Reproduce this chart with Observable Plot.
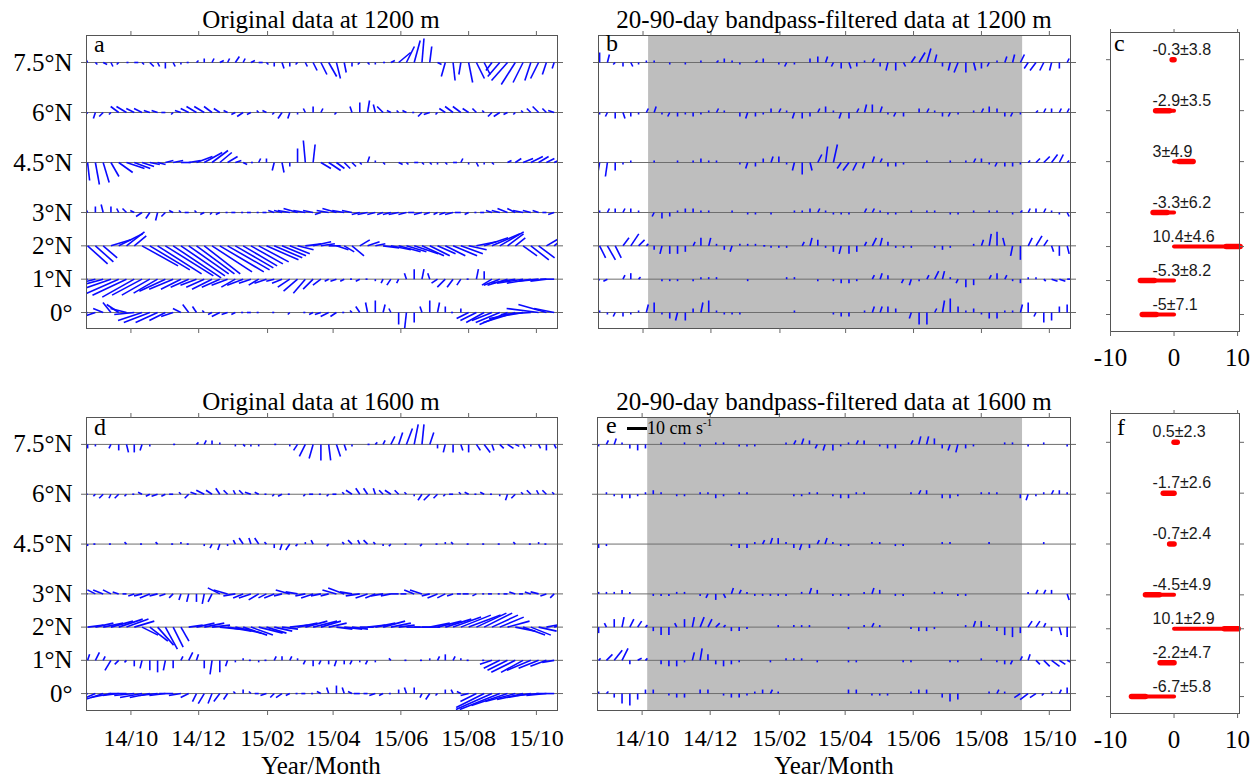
<!DOCTYPE html>
<html><head><meta charset="utf-8">
<script src="https://cdn.jsdelivr.net/npm/d3@7"></script>
<script src="https://cdn.jsdelivr.net/npm/@observablehq/plot@0.6"></script>
<style>
html,body{margin:0;padding:0;background:#fff;}
#fig{position:relative;width:1258px;height:780px;overflow:hidden;font-family:"Liberation Serif",serif;color:#000;}
.t{position:absolute;white-space:nowrap;line-height:1;}
.title{font-size:25px;transform:translateX(-50%);}
.letter{font-size:24px;}
</style></head><body><div id="fig"></div>
<script>
// ---------- axes / categories ----------
const lats = [7.5, 6, 4.5, 3, 2, 1, 0];
const latLabels = ["7.5°N", "6°N", "4.5°N", "3°N", "2°N", "1°N", "0°"];
const monthTicks = ["2014-10-01", "2014-12-01", "2015-02-01", "2015-04-01", "2015-06-01", "2015-08-01", "2015-10-01"];
const monthLabels = ["14/10", "14/12", "15/02", "15/04", "15/06", "15/08", "15/10"];
const timeDomain = ["2014-08-22", "2015-10-20"];
const firstStick = "2014-08-23";
const stickStepDays = 7;
const shadeStart = "2014-10-06";
const shadeEnd = "2015-09-07";
const barTicks = [-10, 0, 10];
const barDomain = [-10, 10.3];

// ---------- mean zonal velocity (cm/s) ± std ----------
const mean1200 = [-0.3, -2.9, 3, -3.3, 10.4, -5.3, -5];
const std1200 = [3.8, 3.5, 4.9, 6.2, 4.6, 8.2, 7.1];
const mean1600 = [0.5, -1.7, -0.7, -4.5, 10.1, -2.2, -6.7];
const std1600 = [2.3, 2.6, 2.4, 4.9, 2.9, 4.7, 5.8];

// ---------- weekly velocity sticks, flat [u,v, u,v, ...] in cm/s ----------
// (a) original, 1200 m
const orig1200_75 = [-1,2, 1,-1, 2,-1, 1,-2, -1,-1, 1,0, 2,0, 1,-1, 2,-2, 1,-2, 0,-3, 1,-2, 0,-1, -1,0, 1,1, 0,2, 1,2, 2,1, 1,2, 2,3, 1,2, 2,1, 2,0, 1,-1, 0,-2, 1,-3, 0,-2, -1,-1, 1,-2, 2,-4, 3,-6, 4,-7, 2,-8, 1,-5, 0,-2, -1,-1, 1,-1, 0,-1, 1,0, 2,1, 6,5, 4,8, 3,11, 1,12, 1,8, 2,-1, -2,-7, 1,-9, -1,-6, 2,-10, 4,-8, 3,-6, -3,-4, -6,-7, -8,-9, -7,-11, -5,-10, -3,-9, -4,-8, -2,-6, -1,-3];
const orig1200_6 = [-2,-2, -1,-3, -2,-2, -1,-1, -4,3, -5,3, -4,2, -4,2, -3,1, -3,1, -2,0, -1,-1, -3,1, -4,2, -5,3, -5,3, -4,3, -3,2, -2,1, -2,-1, -3,-2, -2,-1, -1,1, -2,1, -1,-1, -2,-3, -1,-3, 0,-1, -1,2, 0,3, 1,2, 0,0, -1,-1, 0,0, -1,3, 0,5, 1,6, -1,4, -3,3, -2,1, -1,1, -2,1, -1,0, -2,-2, -3,-1, -1,-1, -3,2, -4,3, -4,3, -3,2, -2,2, -1,1, -2,-2, -3,-2, -2,-1, -1,-1, -1,1, -2,2, -3,3, -2,2, -3,1];
const orig1200_45 = [1,-9, 2,-11, 3,-10, 4,-7, 7,-5, 9,-3, 8,-3, 6,-2, 5,-1, 4,-1, 4,1, 5,1, 5,0, 6,1, 8,3, 9,5, 8,6, 6,5, 5,3, 3,1, 2,-1, 1,0, 1,2, 0,2, -1,-4, 1,-5, 0,-2, 0,7, -1,11, 1,9, 5,-3, 6,-4, 4,-3, 3,-3, 2,-2, 1,-1, 1,3, 0,1, 1,-1, 0,0, 2,-1, 1,-1, 2,0, 1,-1, 1,-1, 0,-1, 1,-1, 2,0, 1,2, 0,-1, 1,-2, 0,-1, 1,-1, 0,0, 2,1, 3,2, 5,2, 6,3, 5,3, 4,2, 2,1];
const orig1200_3 = [-1,2, 0,3, -1,4, 0,3, -1,2, -2,2, -2,1, -3,-2, -2,-3, -1,-4, -2,-2, -2,1, -1,1, -2,0, -1,1, -2,-1, -1,-1, -2,-1, -1,0, -2,0, -1,0, -2,0, -1,0, -2,0, -3,1, -4,1, -6,1, -7,2, -6,1, -5,1, -3,-1, -6,1, -7,2, -6,1, -5,1, -4,-1, -5,-1, -4,-1, -3,-1, -4,-1, -5,-1, -4,-1, -3,0, -4,-1, -3,-1, -2,-1, -3,-1, -4,-1, -3,0, -2,-1, -1,0, -2,0, -3,1, -4,1, -5,2, -4,2, -5,1, -4,1, -3,1, -2,0, -3,-1];
const orig1200_2 = [10,-9, 9,-8, 7,-6, 10,3, 12,6, 9,7, 6,5, 18,-10, 20,-12, 22,-14, 24,-15, 24,-16, 22,-15, 20,-14, 19,-14, 18,-14, 20,-13, 22,-13, 21,-12, 19,-11, 17,-10, 16,-9, 15,-8, 16,-7, 14,-6, 12,-5, 10,-4, 8,-2, 8,1, 9,2, 7,1, 6,0, 6,-2, 5,-3, 6,-5, 5,3, 6,2, 5,1, 8,-1, 10,-2, 11,-3, 10,-3, 12,-4, 11,-5, 10,-5, 9,-4, 10,-5, 12,-5, 11,-4, 9,-2, 10,2, 12,4, 14,6, 12,7, 8,6, 5,4, 7,-5, 9,-7, 8,-6, 7,4, 6,5];
const orig1200_1 = [-18,-3, -20,-5, -22,-6, -20,-7, -18,-8, -17,-8, -16,-9, -15,-8, -14,-8, -12,-7, -13,-6, -12,-5, -10,-5, -9,-4, -8,-3, -9,-4, -10,-5, -9,-4, -8,-3, -7,-4, -8,-3, -6,-2, -5,-3, -6,-2, -4,-1, -5,-2, -6,-4, -7,-6, -6,-7, -5,-5, -4,-3, -2,-1, -3,-1, -2,-1, -1,0, -2,-1, -1,0, 0,-1, -1,-2, -2,-3, -1,-2, -1,3, 0,5, 1,5, -1,3, -3,-2, -4,-4, -3,-4, -2,-3, -1,0, 1,5, 0,4, -5,-3, -8,-3, -10,-3, -12,-2, -13,-2, -12,-2, -10,-1, -8,-1, -7,0];
const orig1200_0 = [-8,-3, -6,-2, -5,2, -4,5, -6,4, -8,2, -10,-1, -12,-4, -13,-5, -11,-5, -8,-4, -6,-2, -4,2, -3,4, -2,3, -1,1, -2,-1, -4,-2, -3,-1, -2,-1, -1,0, -2,0, -1,0, 0,0, -1,0, 0,0, -1,-1, 0,0, -1,0, -2,-1, -3,-1, -4,-2, -3,-2, -1,0, -1,1, -2,3, -1,5, 0,6, 1,4, -1,2, 0,-6, -1,-9, 0,-5, -1,3, 0,6, 1,5, 0,3, -1,0, 0,2, -6,-3, -8,-4, -9,-5, -10,-4, -12,-5, -14,-6, -16,-5, -17,-3, -15,-1, -16,2, -14,4, -10,2];

// (b) 20-90-day filtered, 1200 m
const filt1200_75 = [0,5, 1,4, -1,-1, 0,-2, 1,-2, 0,-1, 0,1, 0,1, 0,0, 0,-1, 0,0, 0,-1, 0,0, 0,1, 0,0, 1,1, 0,2, 0,1, 0,-1, 0,0, 1,1, 0,2, 0,0, 0,-1, -1,-2, 0,-1, 0,0, 0,2, 0,3, 1,3, -1,-2, 0,-3, 1,-3, 0,-2, 0,1, 1,2, 0,-2, -1,-4, 0,-4, 1,-2, 2,3, 3,5, 2,7, 1,4, 0,-2, -1,-4, -2,-5, 0,-5, 1,-4, 0,-3, -1,-2, 0,1, 1,3, 1,4, 2,4, -2,-3, -3,-4, -2,-4, -1,-4, 0,-3, 1,2];
const filt1200_6 = [0,-1, -1,-2, 0,-3, 1,-3, 0,-2, 0,-1, 1,2, 1,3, 0,-1, -1,-2, 0,-2, 0,-1, 0,-2, 0,-1, 0,1, 1,2, 0,1, 0,0, 0,-2, -1,-3, 0,-2, 0,-1, 0,2, 1,2, 0,1, -1,-3, 0,-3, 0,-2, 1,2, 0,3, 0,1, -1,-3, 0,-3, 1,2, 1,4, 0,4, 1,3, 0,-1, -1,-2, 0,-2, 0,0, 0,2, 1,2, 0,1, 0,-2, -1,-2, 0,-1, 0,0, 0,1, 1,2, 0,3, 0,2, 0,-2, -1,-2, 0,-1, 0,0, 1,1, 1,2, 0,2, 1,2, 1,2];
const filt1200_45 = [-1,-6, -1,-7, 0,-4, 0,-1, 0,1, 0,0, 0,0, 0,1, 0,0, 0,0, 0,1, 0,0, 0,1, 0,2, 0,1, 0,1, 0,0, 0,0, 0,-1, -1,-3, 0,-2, 0,2, 1,3, 0,3, 0,-1, -1,-4, 0,-6, 1,-4, 2,4, 1,8, 2,9, -2,-3, -3,-4, -2,-4, -1,-3, 1,3, 1,2, 0,-2, 0,-2, 0,-1, 0,0, 0,0, 0,1, 0,0, 0,0, 0,1, 0,0, 0,1, 1,2, 0,2, 0,-1, -1,-2, 0,-2, 0,-2, 0,-1, 1,1, 2,2, 3,3, 3,4, 2,4, 1,1];
const filt1200_3 = [0,1, 1,2, 0,2, 1,2, 0,2, 0,1, 0,0, -1,-2, 0,-3, 0,-2, 0,1, 0,2, 0,2, 0,1, 0,1, 0,0, 0,0, 0,1, 0,0, 0,-1, 0,-1, 0,0, 0,-1, 0,0, 0,0, 0,1, 0,1, 0,2, 1,2, 0,1, 0,-1, 0,-1, 0,-1, 0,0, 1,2, 1,2, 0,1, 0,-1, 0,-1, 0,0, 0,1, 0,0, 0,1, 0,1, 0,0, 0,-1, 0,-1, 0,0, 0,1, 0,0, 0,1, 0,1, 0,0, 0,-1, 1,1, 1,2, 0,2, 1,2, 0,1, 0,-1, 1,-2];
const filt1200_2 = [3,-6, 4,-7, 3,-6, 3,4, 4,6, 3,3, 1,1, 0,-2, -1,-4, 0,-4, 0,-4, 0,-3, 1,2, 0,4, 1,4, 0,1, 0,-2, -1,-3, 0,1, 0,1, 0,1, 1,0, 0,-1, 0,-1, 0,-1, 0,0, 1,2, 1,4, 0,3, 0,-1, 0,-3, -1,-4, 0,-4, 0,-3, 1,2, 2,4, 1,4, 0,2, 0,-1, 0,-1, 0,-1, 0,0, 0,0, 0,-1, 0,-2, 0,-1, 0,0, 0,0, 0,1, 1,3, 1,6, 0,7, -1,4, -1,-5, 0,-7, 2,4, 3,5, 2,3, 1,-3, 0,-5, 1,-4];
const filt1200_1 = [-1,-1, -2,-1, 0,0, 1,2, 0,3, 1,1, 0,0, 0,0, 0,-1, 0,-1, 0,-1, 0,0, 0,-1, 0,1, 0,1, 0,1, 0,0, 0,0, 0,0, 0,-1, 0,0, 0,0, 0,0, 0,0, 0,1, 0,1, 0,0, 0,0, 0,-1, 0,0, 0,-1, 0,-2, 0,-2, 0,-1, 0,0, 1,2, 1,3, 0,2, 0,0, -1,-2, -1,-3, 0,-1, 1,2, 2,4, 1,4, 0,1, -1,-2, 0,-4, 0,-3, 0,0, 1,2, 0,3, 1,2, 0,-1, 0,-2, 0,1, 0,1, 1,-1, 3,-1, 3,-1, 2,0];
const filt1200_0 = [0,1, 0,-1, -1,-2, 0,-2, 0,-1, 0,1, 1,4, 0,5, 0,-1, 0,-3, -1,-4, 0,-4, 0,2, 1,5, 0,6, 0,1, 0,-1, 0,-1, 0,-1, 0,0, 0,0, 0,0, 0,0, 0,0, 0,0, 0,1, 0,0, 0,0, 0,0, 0,0, 0,-1, 0,-2, 0,-2, 0,0, 0,1, 1,3, 1,3, 0,3, 0,2, 0,0, -1,-3, 0,-6, 0,-6, 1,2, 1,6, 0,7, 0,3, 0,1, 0,2, 0,-1, 0,-3, 0,-3, 0,1, 0,1, 1,4, 0,5, -1,-2, 0,-5, 0,-4, 0,3, 0,4];

// (d) original, 1600 m
const orig1600_75 = [0,-2, 0,-1, 0,0, -1,-2, 0,-3, 1,-4, 0,-4, -1,-3, 0,-1, 0,0, 0,0, 1,0, 0,0, 0,0, 1,1, 1,2, 0,2, 0,1, 0,0, 0,-1, 1,-1, 0,-1, 0,-1, 0,0, 1,0, 0,0, 0,-1, -2,-3, -3,-6, -2,-7, 0,-8, 1,-8, 2,-6, 1,-3, 0,-1, 0,0, 1,0, 1,1, 1,2, 2,4, 2,6, 3,8, 2,10, 1,10, 2,6, 0,-2, -1,-4, 0,-4, 1,-3, 0,-4, 2,-3, 3,-4, 1,-3, 2,-2, 3,-2, 2,-1, 1,-2, 0,-1, 1,-2, 0,-3, 1,-2];
const orig1600_6 = [-1,0, -1,-1, -2,-2, -1,-2, -2,-2, -1,-1, -1,0, -2,1, -2,-1, -3,-1, -2,-1, -2,0, -1,1, -2,-2, -3,1, -4,2, -3,2, -2,3, -2,2, -1,2, -2,2, -3,1, -2,1, -1,0, -1,-1, -2,-1, -1,0, 0,0, -1,-1, -2,0, -1,0, -1,-1, -2,0, -1,1, -3,2, -2,3, -2,3, -1,3, -2,2, -3,2, -2,2, -1,1, 0,-1, -2,-3, -3,-3, -2,-2, -1,-1, -2,0, -1,1, -2,1, -1,0, -2,1, -1,0, 0,-1, -1,-3, -2,-2, -1,1, -2,2, -1,2, -2,2, -1,1];
const orig1600_45 = [0,-1, -1,0, 0,0, -1,0, 0,0, -1,1, 0,0, -1,0, 0,0, -1,1, 0,0, -1,0, 0,1, -1,0, 0,0, 0,-1, -1,-2, -1,-3, 0,-1, -1,2, -2,3, -1,3, -2,3, -1,1, 0,-2, -1,-3, -2,-3, -1,-1, 0,1, -1,2, 0,0, -1,-1, 0,0, -1,1, -2,2, -1,2, -2,2, -1,1, 0,-1, -1,-1, 0,0, -1,0, 0,0, -1,-1, 0,0, -1,0, 0,1, -1,1, 0,0, -1,0, 0,0, -1,0, 0,0, -1,0, 0,0, -1,1, 0,0, -1,0, 0,1, -1,0, 0,0];
const orig1600_3 = [-3,1, -4,2, -5,2, -4,2, -3,1, -2,0, -3,-1, -4,-1, -5,-2, -4,-1, -3,-1, -2,-2, -1,-3, -1,-4, 0,-4, -1,-5, -2,-4, -6,3, -7,2, -6,-1, -5,-2, -6,-2, -5,-3, -4,-2, -5,-2, -4,-1, -7,2, -6,1, -5,-1, -6,-2, -5,-1, -4,-1, -7,2, -8,3, -6,1, -7,-1, -6,-2, -5,-2, -6,-1, -5,-1, -4,0, -3,0, -5,2, -6,2, -4,-1, -5,-2, -4,-2, -3,-1, -2,0, -3,0, -2,-1, -1,0, -2,0, -1,0, -2,0, -3,1, -2,0, -3,1, -4,1, -3,-1, -2,-2];
const orig1600_2 = [8,1, 9,2, 10,2, 11,3, 12,4, 11,4, 10,3, 8,-4, 9,-7, 8,-9, 6,-11, 5,-10, 4,-7, 7,1, 9,2, 10,2, 9,1, 10,-1, 12,-2, 13,-3, 12,-4, 11,-4, 12,-3, 10,-3, 9,-2, 8,-1, 9,1, 10,2, 11,3, 12,3, 10,3, 9,2, 8,-1, 9,-1, 8,-1, 7,0, 9,1, 10,2, 11,3, 10,2, 8,1, 7,0, 8,0, 9,0, 10,2, 12,3, 13,4, 14,5, 15,6, 16,6, 15,7, 14,7, 13,6, 12,5, 11,3, 10,-2, 11,-4, 10,-4, 9,-2, 10,2, 9,3];
const orig1600_1 = [1,3, 2,4, 1,2, -3,-5, -2,-2, -1,-1, 0,-3, -1,-4, 0,-5, 0,-6, -1,-5, 0,-4, 1,2, 2,4, 1,3, 0,-4, -1,-7, 0,-6, -1,-3, 0,-1, 0,1, -1,0, 0,-1, -1,0, 1,2, 0,2, 1,2, 0,1, -1,-2, 0,-3, -1,-2, 0,-2, -1,-3, 0,-2, -1,-2, 0,-1, -1,-2, 0,-1, 0,0, -1,1, 0,0, -1,0, 0,0, -1,0, 0,1, 1,2, 0,3, 1,2, 0,1, -1,0, 0,0, -1,0, -6,-2, -8,-4, -10,-5, -12,-6, -11,-6, -12,-5, -10,-4, -8,-3, -6,-1];
const orig1600_0 = [-16,-8, -14,-6, -12,-4, -10,-2, -8,-1, -9,0, -10,-1, -11,-2, -10,-2, -9,-1, -8,-1, -7,0, -6,-1, -4,-2, -2,-4, -3,-5, -2,-5, -3,-4, -2,-3, -1,1, 0,2, -1,1, -2,0, -3,-1, -2,-2, -3,-2, -2,-1, -1,0, -2,0, -1,0, -2,1, -1,3, 0,4, -1,3, -2,1, -3,0, -2,0, -3,-1, -2,-1, -1,0, 0,2, -1,3, 0,3, -1,-2, -2,-3, -1,-1, 0,2, -1,2, -2,1, -4,-1, -8,-4, -14,-7, -18,-8, -20,-8, -18,-6, -15,-4, -13,-3, -12,-2, -11,-1, -10,-1, -9,0];

// (e) 20-90-day filtered, 1600 m
const filt1600_75 = [0,-1, 1,2, 1,3, 0,1, 0,-2, 0,-3, 0,-2, 0,0, 0,1, 0,0, 0,0, 0,1, 0,0, 0,-1, 0,0, 0,1, 0,1, 0,0, 0,-1, 0,-1, 0,-1, 0,0, 0,0, 0,0, 0,1, 1,2, 1,3, 0,2, -1,-2, -1,-3, 0,-3, 0,-1, 0,1, 1,2, 0,2, 0,0, 0,-1, 0,-2, 0,-2, 0,0, 1,2, 1,4, 1,4, 0,3, 0,-2, -1,-3, -1,-4, 0,-2, 0,-1, 0,0, 0,0, 0,0, 0,1, 0,1, 0,0, 0,-1, 0,0, 0,1, 0,0, 0,0, 0,-1];
const filt1600_6 = [0,0, 0,1, 0,-1, 0,-2, 0,-2, 0,-1, 0,1, 0,2, 0,1, 0,0, 0,-1, 0,-1, 0,0, 0,1, 0,1, 0,-2, 0,-1, 0,0, 0,1, 0,1, 0,0, 0,0, 0,0, 0,0, 0,0, 0,-1, 0,-1, 0,1, 0,1, 0,0, 0,-1, 0,-2, 0,-2, 0,1, 0,1, 0,0, 0,0, 0,0, 0,0, 0,0, 0,1, 1,2, 0,2, 0,0, 0,-2, 0,-2, 0,-1, 0,0, 0,0, 0,1, 0,1, 0,1, 0,0, 0,0, 0,-2, -1,-3, 0,-1, 0,1, 1,2, 0,2, 0,1];
const filt1600_45 = [0,-2, 0,-1, 0,0, 0,0, 0,0, 0,0, 0,0, 0,0, 0,0, 0,0, 0,0, 0,0, 0,0, 0,0, 0,0, 0,0, 0,0, 0,-1, 0,-2, 0,-2, 0,1, 1,2, 1,3, 0,3, 0,1, 0,-2, -1,-3, 0,-2, 1,2, 1,3, 0,1, 0,-1, 0,-1, 0,0, 0,0, 0,1, 0,1, 0,0, 0,-1, 0,-1, 0,0, 0,0, 0,0, 0,0, 0,1, 0,1, 0,0, 0,0, 0,0, 0,0, 0,1, 0,0, 0,0, 0,0, 0,0, 0,0, 0,0, 0,1, 0,0, 0,0, 0,0];
const filt1600_3 = [0,1, 0,1, 0,1, 0,2, 0,1, 0,0, 0,0, 0,-1, 0,-1, 0,-1, 0,1, 0,1, 0,0, 0,-1, -1,-2, 0,-3, 1,-2, 1,3, 1,2, 0,1, 0,-1, 0,-1, 0,-1, 0,-1, 0,-1, 0,0, 0,1, 1,3, 0,2, 0,0, 0,-1, 0,-1, 0,-1, 0,0, 0,1, 1,3, 0,2, 0,0, 0,-1, 0,-1, 0,0, 0,0, 0,0, 0,1, 0,1, 0,0, 0,-1, 0,-1, 0,0, 0,0, 0,0, 0,0, 0,0, 0,0, 0,0, 0,1, 1,2, 1,2, 0,2, 0,0, 1,-3];
const filt1600_2 = [0,-3, -1,2, 0,4, 1,5, 2,4, 2,3, 1,1, 0,-2, 0,-4, 0,-4, -1,2, 0,4, 1,5, 2,5, 2,4, 2,2, 1,1, 0,-2, 0,-2, 0,-1, 0,0, 0,0, 0,0, 0,1, 0,0, 0,1, 0,1, 0,1, 0,0, 0,0, 0,0, 0,0, 0,-1, 0,0, 0,1, 1,2, 0,1, 0,0, 0,0, 0,0, 0,-1, 0,-2, 0,-2, 0,-1, 0,0, 0,0, 0,0, 0,1, 1,3, 0,3, 0,1, 0,-2, 0,-4, 0,-5, 0,-3, 2,3, 2,3, 1,2, 0,-2, 1,-4, 0,-5];
const filt1600_1 = [1,1, 3,3, 4,5, 3,6, 0,-2, 2,1, 1,1, 0,0, 0,-2, 0,-3, 0,-3, 0,-1, 1,4, 1,6, 0,3, 0,-2, 0,-3, 0,-2, 0,-1, 0,0, 0,0, 0,0, 0,-1, 0,0, 0,1, 0,1, 0,1, 0,0, 0,-1, 0,0, 0,0, 0,0, 0,-1, 0,-1, 0,0, 0,0, 0,0, 0,0, 0,0, 0,-1, 0,-1, 0,0, 0,0, 0,0, 0,0, 0,-1, 0,-1, 0,0, 0,0, 0,1, 0,0, 0,-1, 0,-2, -1,-2, 1,2, 1,3, 2,-2, 3,-3, 4,-3, 3,-2, 2,-1];
const filt1600_0 = [0,1, 1,1, 0,-2, 0,-5, 0,-6, 0,-3, 0,2, 0,2, 0,0, 0,-1, 0,-2, 0,-2, 0,0, 0,2, 0,2, 0,0, 0,-1, 0,-2, 0,-2, 0,-1, 0,1, 0,2, 1,2, 0,1, 0,0, 0,0, 0,0, 0,0, 0,0, 0,0, 0,0, 0,0, 0,2, 0,2, 0,0, 0,-1, 0,-1, 0,-1, 0,0, 0,0, 0,1, 0,2, 0,2, 0,0, 0,-2, 0,-4, 0,-3, 0,0, 0,0, 0,0, 0,1, 1,2, 0,1, 0,0, -3,-2, -4,-3, -3,-2, -1,-1, 0,1, 1,2, 0,3];

// ---------- drawing ----------
const PX_PER_CMS = 2;           // stick scale: 10 cm/s = 20 px
const DAY = 864e5;
const fig = document.getElementById("fig");
const serif = "Liberation Serif";

function place(el, left, top) {
  el.style.position = "absolute";
  el.style.left = left + "px";
  el.style.top = top + "px";
  fig.appendChild(el);
}
function html(cls, text, left, top, extra) {
  const d = document.createElement("div");
  d.className = "t " + cls;
  d.innerHTML = text;
  if (extra) Object.assign(d.style, extra);
  place(d, left, top);
  return d;
}

function stickPanel(o) {
  const xd = timeDomain.map(s => new Date(s));
  const days = (xd[1] - xd[0]) / DAY;
  const pxPerDay = (o.width - o.ml - o.mr) / days;
  const pxPerDeg = (o.height - o.mt - o.mb) / (o.yDomain[1] - o.yDomain[0]);
  const t0 = new Date(firstStick).getTime();
  const data = [];
  o.series.forEach((uv, i) => {
    const lat = lats[i];
    for (let k = 0; k < Math.floor(uv.length / 2); k++) {
      const u = uv[2 * k], v = uv[2 * k + 1];
      const t = t0 + k * stickStepDays * DAY;
      data.push({t: new Date(t), lat, t2: new Date(t + u * PX_PER_CMS / pxPerDay * DAY), lat2: lat + v * PX_PER_CMS / pxPerDeg});
    }
  });
  const ticks = monthTicks.map(s => new Date(s));
  const marks = [];
  if (o.shade) marks.push(Plot.rect([{s: new Date(shadeStart), e: new Date(shadeEnd)}], {x1: "s", x2: "e", fill: "#bebebe"}));
  marks.push(
    Plot.ruleY(lats, {stroke: "#6e6e6e", strokeWidth: 1}),
    Plot.link(data, {x1: "t", y1: "lat", x2: "t2", y2: "lat2", stroke: "#0a0aff", strokeWidth: 1.6, clip: true}),
    Plot.frame({stroke: "#555"}),
    Plot.axisY(lats, {anchor: "left", tickSize: 5, tickPadding: 9, stroke: "#666", label: null, fontSize: 25,
      tickFormat: o.yLabels ? (d => latLabels[lats.indexOf(d)]) : (() => "")}),
    Plot.axisY(lats, {anchor: "right", tickSize: 5, stroke: "#666", label: null, tickFormat: () => ""}),
    Plot.axisX(ticks, {anchor: "top", tickSize: 5, stroke: "#666", label: null, tickFormat: () => ""}),
    Plot.axisX(ticks, {anchor: "bottom", tickSize: 5, tickPadding: 13, stroke: "#666", label: null, fontSize: 24,
      tickFormat: o.xLabels ? (d => monthLabels[ticks.findIndex(t => +t === +d)]) : (() => "")})
  );
  const svg = Plot.plot({
    width: o.width, height: o.height,
    marginLeft: o.ml, marginRight: o.mr, marginTop: o.mt, marginBottom: o.mb,
    x: {type: "utc", domain: xd}, y: {domain: o.yDomain},
    style: {background: "transparent", fontFamily: serif, overflow: "visible", color: "#000"},
    marks
  });
  place(svg, o.left, o.top);
}

function barPanel(o) {
  const data = lats.map((lat, i) => ({lat, m: o.means[i], s: o.stds[i]}));
  const svg = Plot.plot({
    width: o.width, height: o.height,
    marginLeft: o.ml, marginRight: o.mr, marginTop: o.mt, marginBottom: o.mb,
    x: {domain: barDomain}, y: {domain: o.yDomain},
    style: {background: "transparent", fontFamily: serif, overflow: "visible", color: "#000"},
    marks: [
      Plot.link(data, {x1: 0, x2: "m", y1: "lat", y2: "lat", stroke: "#ff0000", strokeWidth: 4, strokeLinecap: "round"}),
      Plot.link(data, {x1: d => d.m - Math.sign(d.m) * Math.min(2.2, Math.abs(d.m)), x2: "m", y1: "lat", y2: "lat",
        stroke: "#ff0000", strokeWidth: 5.5, strokeLinecap: "round"}),
      Plot.text(data, {y: "lat", text: d => `${d.m}±${d.s}`, frameAnchor: "left", dx: 42, dy: -10, textAnchor: "start",
        fontFamily: "Liberation Sans", fontSize: 16, fill: "#1a1a1a"}),
      Plot.frame({stroke: "#555"}),
      Plot.axisY(lats, {anchor: "left", tickSize: 4, stroke: "#666", label: null, tickFormat: () => ""}),
      Plot.axisY(lats, {anchor: "right", tickSize: 4, stroke: "#666", label: null, tickFormat: () => ""}),
      Plot.axisX(barTicks, {anchor: "top", tickSize: 4, stroke: "#666", label: null, tickFormat: () => ""}),
      Plot.axisX(barTicks, {anchor: "bottom", tickSize: 5, tickPadding: 12, stroke: "#666", label: null, fontSize: 25,
        tickFormat: d => String(d)})
    ]
  });
  place(svg, o.left, o.top);
}

const topRowY = [-0.48, 8.31];
const botRowY = [-0.51, 8.31];

stickPanel({left: 0, top: 0, width: 580, height: 360, ml: 86, mr: 23, mt: 35, mb: 32, yDomain: topRowY,
  series: [orig1200_75, orig1200_6, orig1200_45, orig1200_3, orig1200_2, orig1200_1, orig1200_0], yLabels: true, xLabels: false});
stickPanel({left: 560, top: 0, width: 530, height: 360, ml: 38, mr: 20, mt: 35, mb: 32, yDomain: topRowY, shade: true,
  series: [filt1200_75, filt1200_6, filt1200_45, filt1200_3, filt1200_2, filt1200_1, filt1200_0], yLabels: false, xLabels: false});
barPanel({left: 1080, top: 0, width: 178, height: 380, ml: 30, mr: 19, mt: 32, mb: 49, yDomain: [-0.5, 8.3],
  means: mean1200, stds: std1200});

stickPanel({left: 0, top: 380, width: 580, height: 400, ml: 86, mr: 23, mt: 37, mb: 70, yDomain: botRowY,
  series: [orig1600_75, orig1600_6, orig1600_45, orig1600_3, orig1600_2, orig1600_1, orig1600_0], yLabels: true, xLabels: true});
stickPanel({left: 560, top: 380, width: 530, height: 400, ml: 37, mr: 20, mt: 37, mb: 70, yDomain: botRowY, shade: true,
  series: [filt1600_75, filt1600_6, filt1600_45, filt1600_3, filt1600_2, filt1600_1, filt1600_0], yLabels: false, xLabels: true});
barPanel({left: 1080, top: 380, width: 178, height: 400, ml: 30, mr: 19, mt: 33, mb: 67, yDomain: [-0.5, 8.35],
  means: mean1600, stds: std1600});

// titles
html("title", "Original data at 1200 m", 321, 7);
html("title", "20-90-day bandpass-filtered data at 1200 m", 834, 7);
html("title", "Original data at 1600 m", 321, 389);
html("title", "20-90-day bandpass-filtered data at 1600 m", 834, 389);
html("title", "Year/Month", 321, 753);
html("title", "Year/Month", 834, 753);

// panel letters
html("letter", "a", 94, 32);
html("letter", "b", 606, 31);
html("letter", "c", 1114, 31);
html("letter", "d", 94, 415);
html("letter", "e", 606, 413);
html("letter", "f", 1117, 415);

// scale bar in panel e
const bar = document.createElement("div");
Object.assign(bar.style, {width: (10 * PX_PER_CMS) + "px", height: "2.5px", background: "#000"});
place(bar, 627, 427);
html("", '10 cm s<span style="font-size:11px;position:relative;top:-8px;">-1</span>', 647, 419, {fontSize: "18px"});
</script></body></html>
